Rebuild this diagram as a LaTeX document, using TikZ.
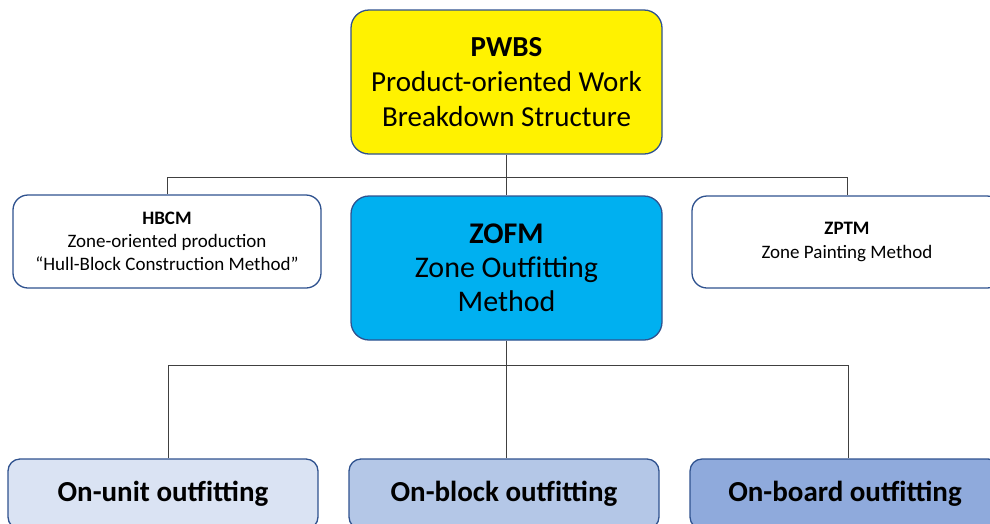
\documentclass[tikz,border=0pt]{standalone}
\usepackage{fontspec}
\setmainfont{Carlito}
\usetikzlibrary{calc}
\definecolor{edge}{RGB}{47,82,143}
\definecolor{wire}{RGB}{64,64,64}
\definecolor{zofmblue}{RGB}{0,176,240}
\definecolor{unitblue}{RGB}{218,227,243}
\definecolor{blockblue}{RGB}{180,199,231}
\definecolor{boardblue}{RGB}{143,170,220}
\tikzset{
  box/.style={
    draw=edge,
    line width=1.3pt,
    rounded corners=18pt,
    align=center,
    inner sep=0pt,
  },
  link/.style={draw=wire, line width=0.8pt},
}
\begin{document}
\begin{tikzpicture}[x=1pt, y=-1pt]
  \def\wide{311pt}
  \clip (0, 0) rectangle (990, 523);
  \node[
    box,
    fill=yellow,
    minimum width=\wide,
    minimum height=144pt,
    font=\fontsize{29}{35}\selectfont,
  ] (pwbs) at (506.5, 82)
    {\textbf{PWBS}\\Product-oriented Work\\Breakdown Structure};
  \node[
    box,
    fill=zofmblue,
    minimum width=\wide,
    minimum height=144pt,
    font=\fontsize{30}{34}\selectfont,
  ] (zofm) at (506.5, 268)
    {\textbf{ZOFM}\\Zone Outfitting\\Method};
  \node[
    box,
    fill=white,
    rounded corners=15pt,
    minimum width=308pt,
    minimum height=93pt,
    font=\fontsize{19}{23}\selectfont,
  ] (hbcm) at (167, 241.5)
    {\textbf{HBCM}\\Zone-oriented production\\``Hull-Block Construction Method''};
  \node[
    box,
    fill=white,
    rounded corners=15pt,
    minimum width=310pt,
    minimum height=92pt,
    font=\fontsize{19}{24}\selectfont,
  ] (zptm) at (847, 242)
    {\textbf{ZPTM}\\Zone Painting Method};
  \node[
    box,
    fill=unitblue,
    rounded corners=12pt,
    minimum width=310pt,
    minimum height=70pt,
    font=\fontsize{29}{34}\selectfont\bfseries,
  ] (unit) at (163, 494) {On-unit outfitting};
  \node[
    box,
    fill=blockblue,
    rounded corners=12pt,
    minimum width=310pt,
    minimum height=70pt,
    font=\fontsize{29}{34}\selectfont\bfseries,
  ] (block) at (504, 494) {On-block outfitting};
  \node[
    box,
    fill=boardblue,
    rounded corners=12pt,
    minimum width=310pt,
    minimum height=70pt,
    font=\fontsize{29}{34}\selectfont\bfseries,
  ] (board) at (845, 494) {On-board outfitting};
  \coordinate (bus1) at ($(pwbs.south)!.55!(zofm.north)$);
  \coordinate (bus2) at ($(zofm.south)!.21!(block.north)$);
  \draw[link] (pwbs.south) -- (zofm.north);
  \draw[link] (hbcm.north) |- (bus1) -| (zptm.north);
  \draw[link] (zofm.south) -- (zofm.south |- block.north);
  \draw[link]
    ([xshift=5pt]unit.north) |- (bus2)
    -| ([xshift=3pt]board.north);
\end{tikzpicture}
\end{document}
